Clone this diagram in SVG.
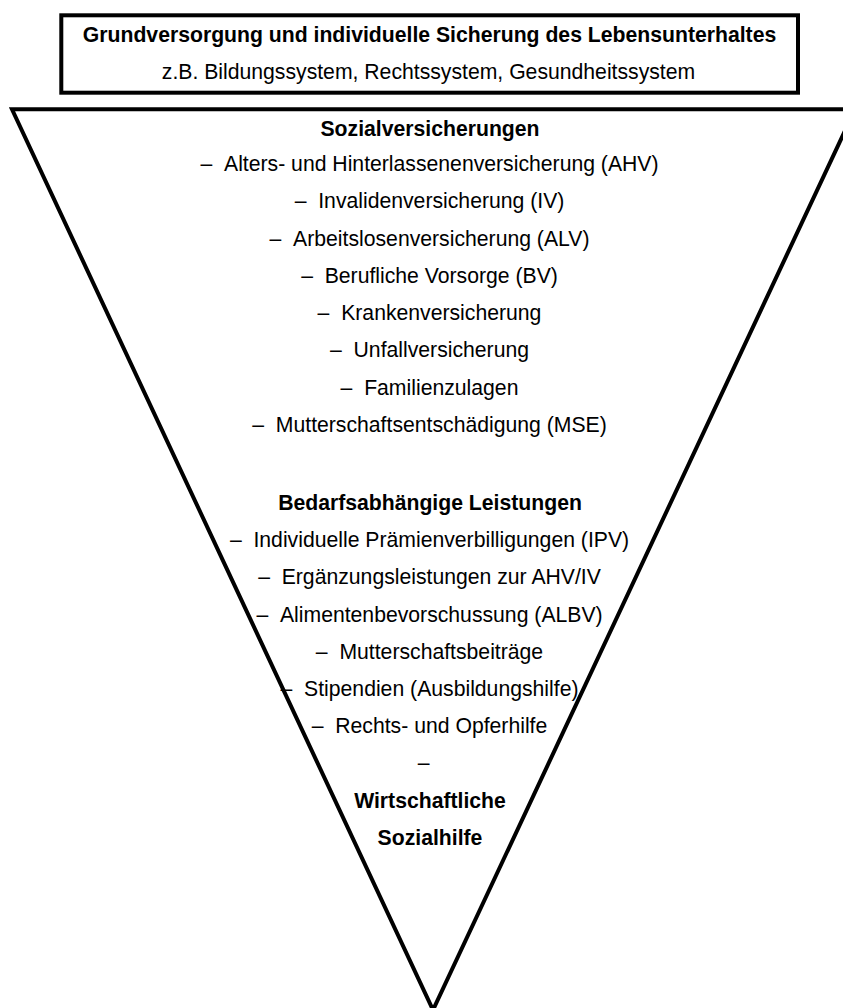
<svg xmlns="http://www.w3.org/2000/svg" width="843" height="1008" viewBox="0 0 843 1008">
  <style>
    .frame { fill: none; stroke: #000; stroke-width: 4; stroke-linejoin: miter; }
    text { font-family: "Liberation Sans", Arial, sans-serif; font-size: 21.2px; fill: #000; text-anchor: middle; }
    .b { font-weight: bold; }
  </style>
  <rect width="843" height="1008" fill="#fff"/>
  <g id="top-box">
    <rect class="frame" x="61.3" y="15.3" width="736.7" height="77.4"/>
    <text class="b" x="429.5" y="41.7">Grundversorgung und individuelle Sicherung des Lebensunterhaltes</text>
    <text x="428.5" y="79.3">z.B. Bildungssystem, Rechtssystem, Gesundheitssystem</text>
  </g>
  <g id="funnel">
    <polygon class="frame" points="12,109.3 855,109.3 433,1010"/>
  </g>
  <g id="sozialversicherungen">
    <text class="b" x="430" y="136">Sozialversicherungen</text>
    <text x="429.5" y="171">–&#160;&#160;Alters- und Hinterlassenenversicherung (AHV)</text>
    <text x="429.5" y="208.3">–&#160;&#160;Invalidenversicherung (IV)</text>
    <text x="429.5" y="245.5">–&#160;&#160;Arbeitslosenversicherung (ALV)</text>
    <text x="429.5" y="282.8">–&#160;&#160;Berufliche Vorsorge (BV)</text>
    <text x="429.5" y="320">–&#160;&#160;Krankenversicherung</text>
    <text x="429.5" y="357.3">–&#160;&#160;Unfallversicherung</text>
    <text x="429.5" y="394.5">–&#160;&#160;Familienzulagen</text>
    <text x="429.5" y="431.8">–&#160;&#160;Mutterschaftsentschädigung (MSE)</text>
  </g>
  <g id="bedarfsabhaengige-leistungen">
    <text class="b" x="430" y="510">Bedarfsabhängige Leistungen</text>
    <text x="429.5" y="547.2">–&#160;&#160;Individuelle Prämienverbilligungen (IPV)</text>
    <text x="429.5" y="584.4">–&#160;&#160;Ergänzungsleistungen zur AHV/IV</text>
    <text x="429.5" y="621.6">–&#160;&#160;Alimentenbevorschussung (ALBV)</text>
    <text x="429.5" y="658.8">–&#160;&#160;Mutterschaftsbeiträge</text>
    <text x="429.5" y="696">–&#160;&#160;Stipendien (Ausbildungshilfe)</text>
    <text x="429.5" y="733.2">–&#160;&#160;Rechts- und Opferhilfe</text>
    <text x="429.5" y="770.4">–&#160;&#160;</text>
  </g>
  <g id="wirtschaftliche-sozialhilfe">
    <text class="b" x="430" y="807.6">Wirtschaftliche</text>
    <text class="b" x="430" y="844.8">Sozialhilfe</text>
  </g>
</svg>
